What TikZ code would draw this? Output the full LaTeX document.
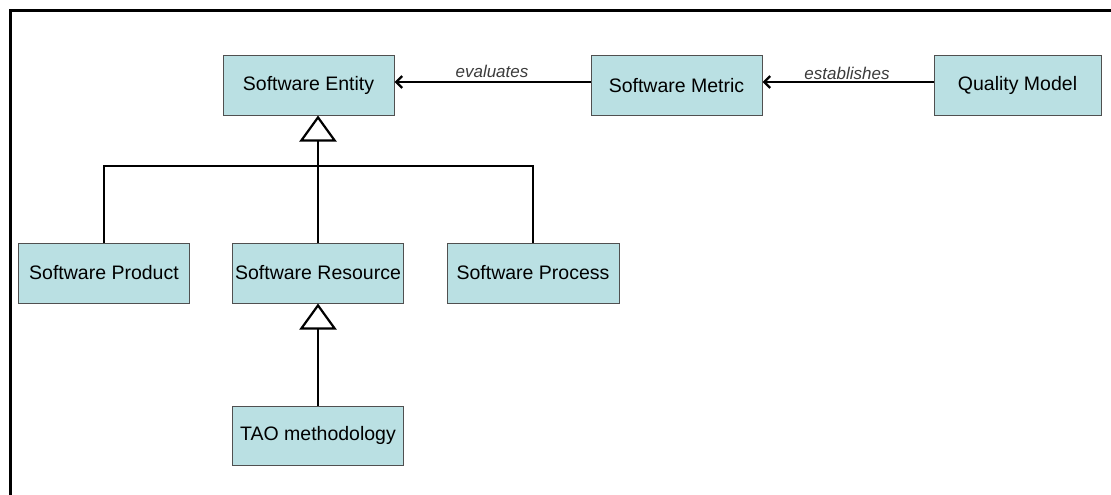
\documentclass[tikz,border=0pt]{standalone}
\usepackage{fontspec}
\setmainfont{Liberation Sans}
\usetikzlibrary{arrows.meta}
\definecolor{boxfill}{RGB}{186,224,227}
\definecolor{boxline}{RGB}{80,80,80}
\definecolor{lbl}{RGB}{60,60,60}
\tikzset{
  cls/.style={draw=boxline, line width=1pt, fill=boxfill, minimum width=171pt, minimum height=59pt, inner sep=0pt, font=\fontsize{19.5}{22}\selectfont},
  assoc/.style={line width=2.8pt, -{Straight Barb[length=6pt,width=12pt,line width=2.4pt]}},
  gen/.style={line width=2.8pt, -{Triangle[length=26pt,width=37pt,fill=white,line width=2.2pt]}},
  tree/.style={line width=2.8pt},
  lab/.style={font=\itshape\fontsize{17}{20}\selectfont, text=lbl, inner sep=0pt},
  frame/.style={line width=3pt}
}
\begin{document}
\begin{tikzpicture}[x=1pt,y=-1pt]
\useasboundingbox (0,0) rectangle (1111,495);
\fill[white] (0,0) rectangle (1111,495);
\coordinate (fr1) at (1111,10.5);
\coordinate (fr2) at (10.5,10.5);
\coordinate (fr3) at (10.5,495);
\draw[frame] (fr1) -- (fr2) -- (fr3);

\node[cls] (ent) at (308.5,85.5) {Software Entity};
\node[cls] (met) at (676.5,85.5) {Software Metric};
\node[cls, minimum width=167pt] (qm) at (1017.5,85.5) {Quality Model};
\node[cls, minimum height=60pt] (prod) at (104,273) {Software Product};
\node[cls, minimum height=60pt] (res) at (318,273) {Software Resource};
\node[cls, minimum height=60pt, minimum width=172pt] (proc) at (533,273) {Software Process};
\node[cls] (tao) at (318,435.5) {TAO methodology};

\node[lab] (evl) at (492,71) {evaluates};
\node[lab] (est) at (847,73) {establishes};

\draw[assoc] ([yshift=3.5pt]met.west) -- ([yshift=3.5pt]ent.east);
\draw[assoc] ([yshift=3.5pt]qm.west) -- ([yshift=3.5pt]met.east);

\coordinate (j) at (318,166);
\draw[tree] (prod.north) |- (j) -| (proc.north);
\draw[gen] (res.north) -- (res.north |- ent.south);
\draw[gen] (tao.north) -- (res.south);
\end{tikzpicture}
\end{document}
